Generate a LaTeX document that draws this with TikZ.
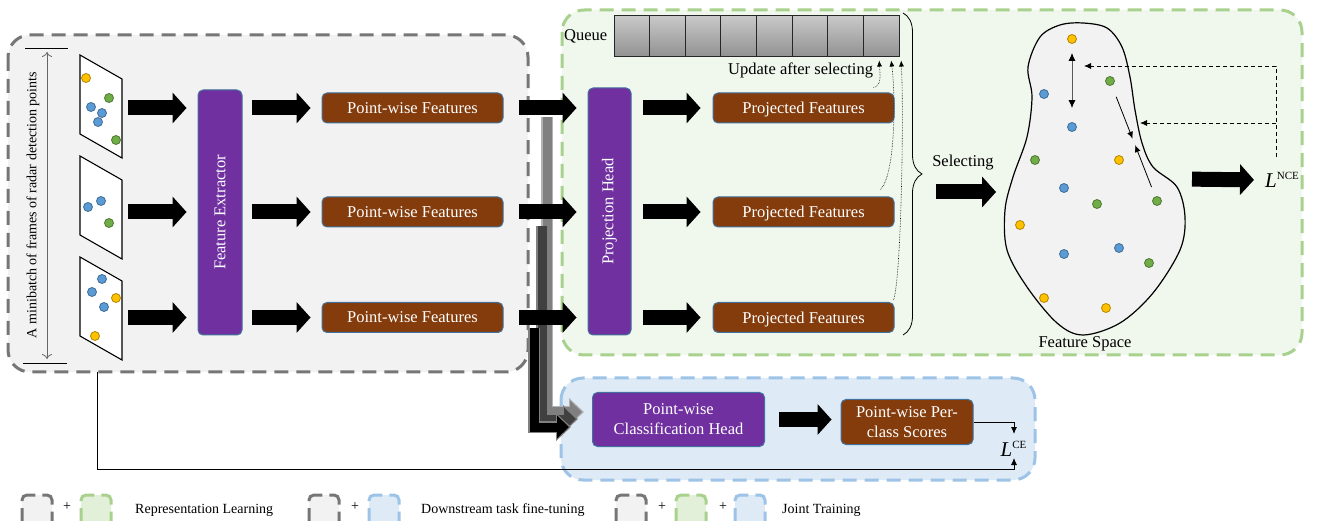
\documentclass[tikz,border=0pt]{standalone}
\usepackage{fontspec}
\setmainfont{Liberation Serif}
\usepackage{graphicx}
\usetikzlibrary{arrows.meta, positioning, calc, decorations.pathreplacing}

\definecolor{framegray}{RGB}{118,118,118}
\definecolor{regiongray}{RGB}{242,242,242}
\definecolor{greenfill}{RGB}{240,247,236}
\definecolor{greenline}{RGB}{169,209,142}
\definecolor{legendgreen}{RGB}{226,240,217}
\definecolor{bluefill}{RGB}{222,235,247}
\definecolor{blueline}{RGB}{157,195,230}
\definecolor{headpurple}{RGB}{112,48,160}
\definecolor{featbrown}{RGB}{132,60,12}
\definecolor{boxedge}{RGB}{65,113,156}
\definecolor{dotyellow}{RGB}{255,192,0}
\definecolor{dotblue}{RGB}{91,155,213}
\definecolor{dotgreen}{RGB}{112,173,71}
\definecolor{qtop}{RGB}{200,200,200}
\definecolor{qbot}{RGB}{145,145,145}

\newcommand{\mainsize}{\fontsize{16.5}{20}\selectfont}
\newcommand{\legsize}{\fontsize{14}{16}\selectfont}
\newcommand{\losssize}{\fontsize{21}{24}\selectfont}

\tikzset{
  region/.style={line width=3pt, dash pattern=on 14pt off 8pt, rounded corners=22pt},
  legbox/.style={line width=3pt, dash pattern=on 17pt off 7pt, rounded corners=5pt},
  headbox/.style={draw=boxedge, fill=headpurple, rounded corners=5pt, text=white, line width=1pt, align=center},
  featbox/.style={draw=boxedge, fill=featbrown, rounded corners=5pt, text=white, line width=1pt,
    minimum width=181pt, minimum height=30pt, align=center},
  framebox/.style={draw=black, fill=white, line width=1.1pt},
  dot/.style={circle, inner sep=0pt, minimum size=9pt, line width=0.8pt},
  qcell/.style={draw=black!85, line width=1pt, top color=qtop, bottom color=qbot,
    minimum width=35.625pt, minimum height=41pt, inner sep=0pt},
  bigarrow/.style={line width=15pt, -{Triangle[length=14pt,width=31pt,line width=0pt]}},
  tapouter/.style={line width=12pt, -{Triangle[length=15pt,width=28pt,line width=0pt]}},
  tapinner/.style={line width=9pt, shorten >=2pt, -{Triangle[length=12pt,width=23pt,line width=0pt]}},
  thinarrow/.style={line width=0.8pt, -{Latex[length=7pt,width=6pt]}},
  updarrow/.style={densely dotted, line width=0.6pt, -{Latex[length=6pt,width=5pt]}},
  fbarrow/.style={dash pattern=on 4pt off 3pt, line width=0.8pt, -{Latex[length=7pt,width=6pt]}},
  blob/.style={draw=black, fill=regiongray, line width=1.2pt}
}

\begin{document}
\begin{tikzpicture}[x=1pt, y=-1pt, font=\mainsize]
  \useasboundingbox (0,0) rectangle (1318,521);

  % Background regions
  \draw[region, draw=framegray, fill=regiongray] (8,35) rectangle (528,372);
  \draw[region, draw=greenline, fill=greenfill] (562,10) rectangle (1302,355);
  \draw[region, draw=blueline, fill=bluefill] (561,378) rectangle (1035,480);

  % Left: the minibatch of frames
  \coordinate (mbtop) at (47,48);
  \coordinate (mbbot) at (47,363);
  \draw[line width=0.8pt] (mbtop) ++(-22,0) -- ++(43,0);
  \draw[line width=0.8pt] (mbbot) ++(-24,0) -- ++(44,0);
  \draw[gray!80!black, line width=0.8pt, shorten <=4pt, shorten >=4pt,
    {To[length=5pt,width=10pt]}-{To[length=5pt,width=10pt]}] (mbtop) -- (mbbot);
  \node[rotate=90, font=\legsize] (mblabel) at (33,205) {A minibatch of frames of radar detection points};

  \foreach \fy in {55,156,257}
    \draw[framebox] (80,\fy) -- ++(42,24) -- ++(0,79) -- ++(-42,-24) -- cycle;
  \foreach \px/\py/\c in {86/78/yellow, 109/98/green, 91/107/blue, 102/113/blue, 98/122/blue, 116/140/green,
      88/207/blue, 101/201/blue, 109/223/green,
      102/279/blue, 92/292/blue, 116/298/yellow, 104/307/blue, 95/336/yellow}
    \node[dot, fill=dot\c, draw=dot\c!70!black] at (\px,\py) {};

  % Backbone and heads
  \node[headbox, minimum width=44pt, minimum height=245pt] (fe) at (220,212.5) {\rotatebox{90}{Feature Extractor}};
  \node[headbox, minimum width=43pt, minimum height=247pt] (ph) at (609.5,211.5) {\rotatebox{90}{Projection Head}};
  \foreach \ry [count=\i] in {108,212,317.5} {
    \coordinate (f\i) at (122,\ry);
    \node[featbox, text depth=0pt] (pw\i) at (412.5,\ry) {Point-wise Features};
    \node[featbox, text depth=0pt] (pj\i) at (803.5,\ry) {Projected Features};
  }

  % Taps down to the classification head
  \coordinate (tap1) at (547,117);
  \coordinate (tap2) at (542,226);
  \coordinate (tap3) at (534,328);
  \coordinate (end1) at (584,412);
  \coordinate (end2) at (578,419);
  \coordinate (end3) at (571,427);
  \draw[tapouter, draw=gray!60] (tap1) |- (end1);
  \draw[tapinner, draw=gray] (tap1) |- (end1);
  \draw[tapouter, draw=gray] (tap2) |- (end2);
  \draw[tapinner, draw=black!75] (tap2) |- (end2);
  \draw[tapouter, draw=gray] (tap3) |- (end3);
  \draw[tapinner, draw=black] (tap3) |- (end3);

  \foreach \i in {1,2,3} {
    \draw[bigarrow, shorten <=6pt, shorten >=11pt] (f\i) -- (f\i -| fe.west);
    \draw[bigarrow, shorten <=9pt, shorten >=11pt] (fe.east |- pw\i.west) -- (pw\i.west);
    \draw[bigarrow, shorten <=15pt, shorten >=11pt] (pw\i.east) -- (pw\i.east -| ph.west);
    \draw[bigarrow, shorten <=11pt, shorten >=12pt] (ph.east |- pj\i.west) -- (pj\i.west);
  }

  % Queue
  \foreach \k in {1,...,8}
    \node[qcell] (q\k) at ({614+35.625*(\k-0.5)},36.5) {};
  \node[anchor=east, inner sep=0pt] (qlabel) at ($(q1.west)+(-6,0)$) {Queue};
  \node[anchor=east, inner sep=0pt] (upd) at ($(q8.south)+(-8,13)$) {Update after selecting};
  \draw[updarrow] ($(pj1.north east)+(-21,-5)$) .. controls (882,86) and (880,74) .. ($(q8.south)+(-2,3)$);
  \draw[updarrow] ($(pj2.north east)+(-14,-7)$) .. controls (895,175) and (896,100) .. ($(q8.south)+(10,3)$);
  \draw[updarrow] ($(pj3.north east)+(-1,-2)$) .. controls (901,280) and (904,120) .. ($(q8.south)+(20,3)$);

  % Selecting into the feature space
  \draw[decorate, decoration={brace, amplitude=19pt}, line width=0.8pt] (903,13) -- (903,335);
  \coordinate (brtip) at (922,174);
  \coordinate (blobW) at (1005,192);
  \node (sel) at (963,163) {Selecting};
  \draw[bigarrow, shorten <=14pt, shorten >=9pt] (brtip |- blobW) -- (blobW);

  \draw[blob] plot[smooth cycle, tension=0.55] coordinates {(1083,23) (1107,28) (1122,47) (1130,77)
    (1135,110) (1142,143) (1153,167) (1177,187) (1185,217) (1180,250) (1153,293) (1120,323)
    (1083,335) (1057,323) (1027,287) (1007,250) (1005,210) (1013,177) (1027,137) (1032,97)
    (1028,67) (1040,37) (1060,25)};
  \node (fslabel) at (1085,344) {Feature Space};
  \foreach \px/\py/\c [count=\i] in {1072/39/yellow, 1110/81/green, 1044/94/blue, 1072/127/blue,
      1035/160/green, 1119/160/yellow, 1064/188/blue, 1097/204/green, 1157/201/green,
      1020/225/yellow, 1119/248/blue, 1064/254/blue, 1149/263/green, 1044/298/yellow, 1106/308/yellow}
    \node[dot, fill=dot\c, draw=dot\c!70!black] (s\i) at (\px,\py) {};
  \draw[gray!70!black, line width=0.9pt, shorten <=9pt, shorten >=14pt,
    {Latex[length=8pt,width=7pt,color=black]}-{Latex[length=8pt,width=7pt,color=black]}] (s1) -- (s4);
  \draw[thinarrow] ($(s2)!17pt!(s9)$) -- ($(s2)!62pt!(s9)$);
  \draw[thinarrow] ($(s9)!15pt!(s2)$) -- ($(s9)!60pt!(s2)$);

  % Contrastive loss and feedback
  \coordinate (blobE) at (1180,179);
  \node[font=\losssize, inner sep=2pt] (lnce) at (1282,180) {\textit{L}\raisebox{7.5pt}{\fontsize{11}{12}\selectfont NCE}};
  \draw[bigarrow, shorten <=12pt, shorten >=9pt] (blobE) -- (lnce.west);
  \coordinate (fb) at (1276,157);
  \coordinate (tipA) at (1084,66);
  \coordinate (tipB) at (1140,123);
  \draw[fbarrow] (fb) |- (tipA);
  \draw[fbarrow] (fb |- tipB) -- (tipB);

  % Bottom: classification branch
  \node[headbox, minimum width=172pt, minimum height=54pt] (clshead) at (678.5,419.5) {Point-wise\\Classification Head};
  \node[featbox, minimum width=132pt, minimum height=45pt] (scores) at (907,422) {Point-wise Per-\\class Scores};
  \draw[bigarrow, shorten <=14pt, shorten >=9pt] (clshead.east) -- (clshead.east -| scores.west);
  \node[font=\losssize, inner sep=0pt] (lce) at (1013.5,449) {\textit{L}\raisebox{7.5pt}{\fontsize{11}{12}\selectfont CE}};
  \coordinate (ceTop) at (1014,434);
  \coordinate (ceBot) at (1014,458);
  \coordinate (lossroot) at (97,372);
  \draw[thinarrow] (scores.east) -| (ceTop);
  \draw[thinarrow] (lossroot) -- ++(0,97) -| (ceBot);

  % Legend
  \begin{scope}
    \clip (0,0) rectangle (1318,521);
    \foreach \lx/\lc/\ld in {22/regiongray/framegray, 81/legendgreen/greenline, 309/regiongray/framegray,
        369/bluefill/blueline, 616/regiongray/framegray, 676/legendgreen/greenline, 735/bluefill/blueline}
      \draw[legbox, draw=\ld, fill=\lc] (\lx,525) -- ++(0,-30) -- ++(30,0) -- ++(0,30);
  \end{scope}
  \foreach \px in {67,355,662,723}
    \node[font=\legsize] at (\px,507) {+};
  \node[anchor=west, inner sep=0pt, font=\legsize] (leg1) at (135,510) {Representation Learning};
  \node[anchor=west, inner sep=0pt, font=\legsize] (leg2) at (421,510) {Downstream task fine-tuning};
  \node[anchor=west, inner sep=0pt, font=\legsize] (leg3) at (782,510) {Joint Training};
\end{tikzpicture}
\end{document}
